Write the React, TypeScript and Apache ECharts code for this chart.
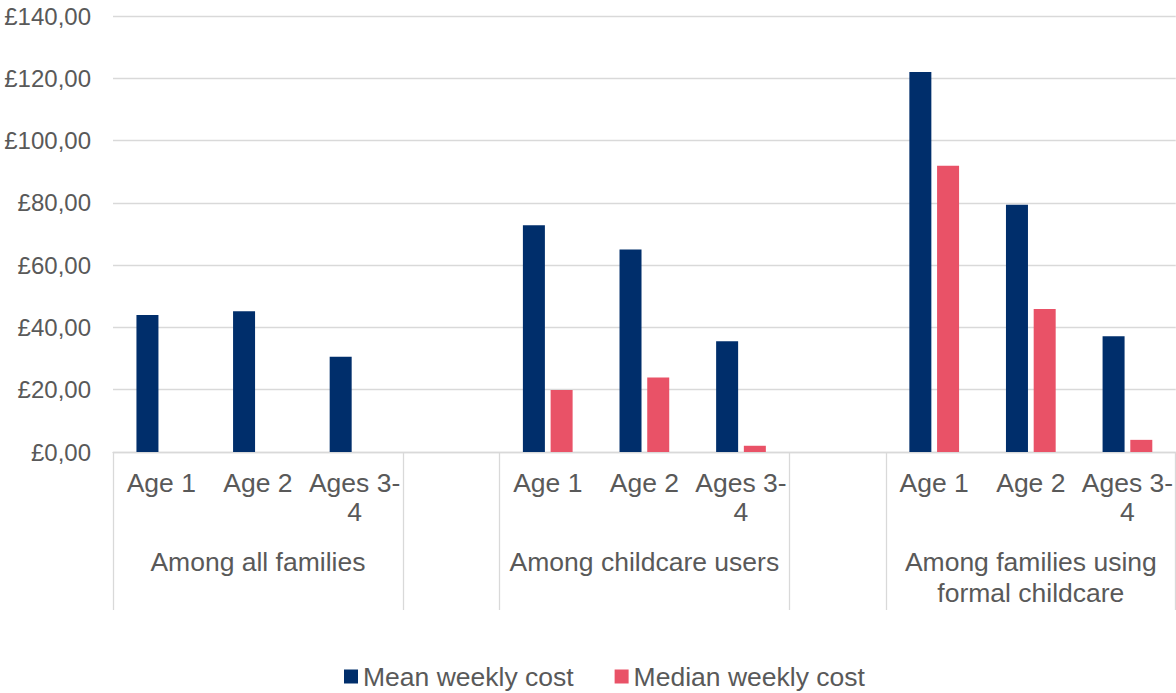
import React, { useEffect, useRef } from "react";
import * as echarts from "echarts";

// Slots on the category axis; empty strings are spacer slots between groups.
const ageLabels = [
  "Age 1", "Age 2", "Ages 3-\n4", "",
  "Age 1", "Age 2", "Ages 3-\n4", "",
  "Age 1", "Age 2", "Ages 3-\n4",
];

// Group captions, placed on the middle slot of each group.
const groupLabels = [
  "", "Among all families", "", "",
  "", "Among childcare users", "", "",
  "", "Among families using\nformal childcare", "",
];

// Slot indices where a group separator line starts.
const separatorIndices = [0, 3, 4, 7, 8];

const meanWeeklyCost = [
  44.0, 45.2, 30.6, null,
  72.8, 65.0, 35.6, null,
  122.0, 79.4, 37.2,
];

const medianWeeklyCost = [
  null, null, null, null,
  19.9, 23.9, 2.0, null,
  91.9, 45.9, 3.9,
];

const yTicks = { min: 0, max: 140, interval: 20 };

const FONT = "'Liberation Sans', Arial, sans-serif";
const TEXT = "#595959";
const GRID = "#d9d9d9";
const NAVY = "#002e6b";
const PINK = "#e95267";

export default function App() {
  const ref = useRef<HTMLDivElement>(null);

  useEffect(() => {
    if (!ref.current) return;
    const chart = echarts.init(ref.current, null, { renderer: "svg" });
    chart.setOption({
      animation: false,
      textStyle: { fontFamily: FONT },
      grid: { left: 113, right: -2, top: 16, bottom: 241, containLabel: false },
      legend: {
        top: 663,
        left: 344,
        padding: 0,
        icon: "rect",
        itemWidth: 14,
        itemHeight: 14,
        itemGap: 41,
        textStyle: { fontSize: 26.5, color: TEXT, fontFamily: FONT },
        data: ["Mean weekly cost", "Median weekly cost"],
      },
      xAxis: [
        {
          type: "category",
          data: ageLabels,
          position: "bottom",
          axisLine: { show: true, lineStyle: { color: GRID, width: 1.3 } },
          axisTick: {
            show: true,
            length: 158,
            interval: (index: number) => separatorIndices.includes(index),
            lineStyle: { color: GRID, width: 1.3 },
          },
          axisLabel: {
            interval: 0,
            margin: 16,
            fontSize: 26.5,
            lineHeight: 29,
            color: TEXT,
            fontFamily: FONT,
            align: "center",
          },
          splitLine: { show: false },
        },
        {
          type: "category",
          data: groupLabels,
          position: "bottom",
          offset: 0,
          axisLine: { show: false },
          axisTick: { show: false },
          axisLabel: {
            interval: 0,
            margin: 94,
            fontSize: 26.5,
            lineHeight: 31,
            color: TEXT,
            fontFamily: FONT,
            align: "center",
          },
          splitLine: { show: false },
        },
      ],
      yAxis: {
        type: "value",
        min: yTicks.min,
        max: yTicks.max,
        interval: yTicks.interval,
        axisLine: { show: false },
        axisTick: { show: false },
        axisLabel: {
          margin: 22,
          fontSize: 24,
          color: TEXT,
          fontFamily: FONT,
          formatter: (v: number) => "£" + v + ",00",
        },
        splitLine: { lineStyle: { color: GRID, width: 1.3 } },
      },
      series: [
        {
          name: "Mean weekly cost",
          type: "bar",
          xAxisIndex: 0,
          data: meanWeeklyCost,
          barWidth: 22,
          barGap: "26%",
          itemStyle: { color: NAVY },
        },
        {
          name: "Median weekly cost",
          type: "bar",
          xAxisIndex: 0,
          data: medianWeeklyCost,
          barWidth: 22,
          barGap: "26%",
          itemStyle: { color: PINK },
        },
      ],
    });
    return () => chart.dispose();
  }, []);

  return (
    <div
      ref={ref}
      style={{ position: "fixed", left: 0, top: 0, width: 1176, height: 693, background: "#fff" }}
    />
  );
}
